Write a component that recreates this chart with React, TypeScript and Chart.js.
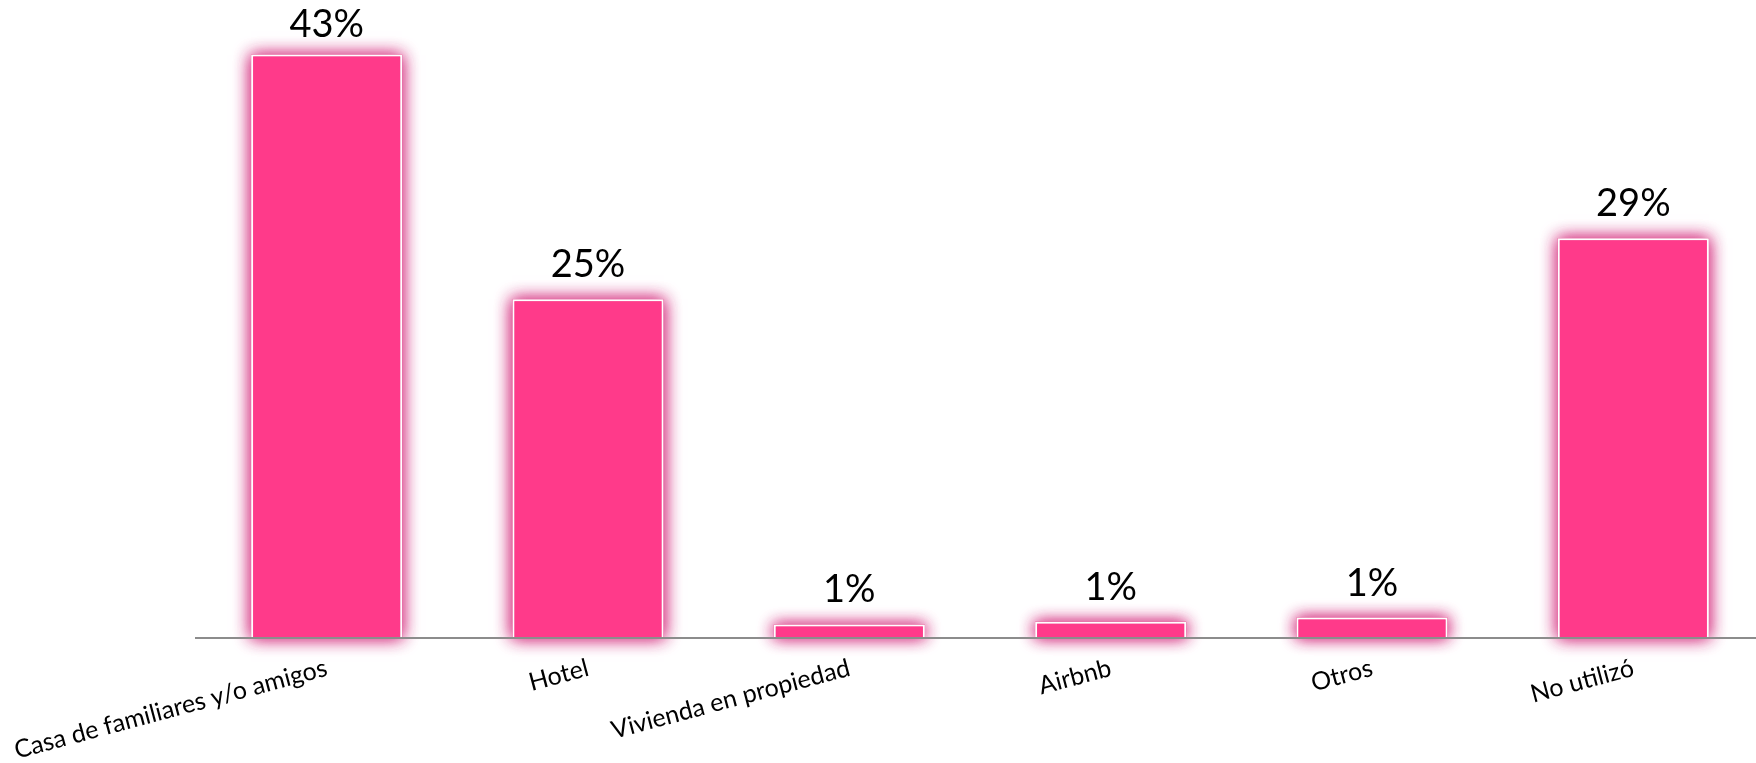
import React, { useEffect, useRef } from "react";
import { Chart, registerables } from "chart.js";

Chart.register(...registerables);

const categories = [
  "Casa de familiares y/o amigos",
  "Hotel",
  "Vivienda en propiedad",
  "Airbnb",
  "Otros",
  "No utilizó",
];
const values = [42.9, 24.9, 1.0, 1.2, 1.5, 29.4];
const valueLabels = ["43%", "25%", "1%", "1%", "1%", "29%"];

const BAR_COLOR = "#FF3A8A";

const glowAndLabels = {
  id: "glowAndLabels",
  beforeDatasetsDraw(chart: any) {
    const ctx = chart.ctx;
    const meta = chart.getDatasetMeta(0);
    ctx.save();
    ctx.shadowColor = "rgba(215, 60, 135, 0.95)";
    ctx.shadowBlur = 16;
    ctx.fillStyle = "rgba(235, 110, 165, 1)";
    meta.data.forEach((bar: any) => {
      const p = bar.getProps(["x", "y", "base", "width"], true);
      const left = p.x - p.width / 2;
      ctx.fillRect(left, p.y, p.width, p.base - p.y);
      ctx.fillRect(left, p.y, p.width, p.base - p.y);
    });
    ctx.restore();
  },
  afterDatasetsDraw(chart: any) {
    const ctx = chart.ctx;
    const meta = chart.getDatasetMeta(0);
    ctx.save();
    ctx.font = "38px Lato";
    ctx.fillStyle = "#000000";
    ctx.textAlign = "center";
    ctx.textBaseline = "alphabetic";
    meta.data.forEach((bar: any, i: number) => {
      const p = bar.getProps(["x", "y"], true);
      const y = Math.max(p.y - 22, chart.chartArea.top + 11);
      ctx.fillText(valueLabels[i], p.x, y);
    });
    ctx.restore();
  },
};

export default function App() {
  const ref = useRef<HTMLCanvasElement | null>(null);

  useEffect(() => {
    if (!ref.current) return;
    const chart = new Chart(ref.current, {
      type: "bar",
      data: {
        labels: categories,
        datasets: [
          {
            data: values,
            backgroundColor: BAR_COLOR,
            borderColor: "#FFFFFF",
            borderWidth: 2,
            categoryPercentage: 1,
            barPercentage: 0.578,
          },
        ],
      },
      options: {
        responsive: false,
        animation: false,
        events: [],
        layout: { padding: { left: 196, right: 6, top: 26, bottom: 0 } },
        plugins: {
          legend: { display: false },
          tooltip: { enabled: false },
        },
        scales: {
          x: {
            grid: { display: false, drawTicks: false },
            border: { display: true, color: "#8C8C8C", width: 2, z: 1 },
            ticks: {
              color: "#000000",
              font: { family: "Lato", size: 25 },
              minRotation: 15,
              maxRotation: 15,
              autoSkip: false,
              padding: 15,
            },
            afterFit: (scale: any) => {
              scale.height = 125;
              scale.paddingLeft = 0;
              scale.paddingRight = 0;
            },
          },
          y: {
            display: false,
            min: 0,
            max: 45,
          },
        },
      },
      plugins: [glowAndLabels],
    });
    return () => chart.destroy();
  }, []);

  return (
    <div
      style={{
        position: "fixed",
        left: 0,
        top: 0,
        width: 1756,
        height: 763,
        overflow: "hidden",
        background: "#FFFFFF",
      }}
    >
      <canvas ref={ref} width={1770} height={763} style={{ width: 1770, height: 763, display: "block" }} />
    </div>
  );
}
